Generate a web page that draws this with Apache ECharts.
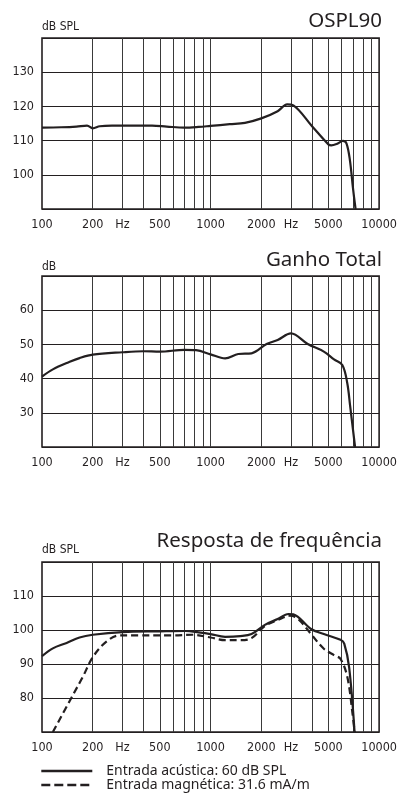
<!DOCTYPE html>
<html>
<head>
<meta charset="utf-8">
<script src="https://cdn.jsdelivr.net/npm/echarts@6/dist/echarts.min.js"></script>
<style>
html,body{margin:0;padding:0;background:#fff;}
#c{width:400px;height:798px;}
</style>
</head>
<body>
<div id="c"></div>
<script>
// ---- data ----
const tickFreqs = [100, 200, 300, 500, 1000, 2000, 3000, 5000, 10000];
const hzTicks = [300, 3000];
const gridFreqs = [200, 300, 400, 500, 600, 700, 800, 900, 1000, 2000, 3000, 4000, 5000, 6000, 7000, 8000, 9000];

const osplFreq = [100, 130, 160, 185, 200, 220, 260, 350, 450, 550, 700, 850, 1000, 1300, 1600, 2000, 2500, 2850, 3100, 4000, 5000, 5200, 5600, 6100, 6400, 6700, 7000, 7250];
const osplDb   = [113.8, 113.9, 114.1, 114.4, 113.6, 114.2, 114.4, 114.4, 114.4, 114.1, 113.8, 114.0, 114.3, 114.8, 115.2, 116.5, 118.6, 120.6, 120.3, 114.2, 108.9, 108.6, 109.0, 109.9, 109.2, 104.5, 96, 90];

const gainFreq = [100, 116, 146, 167, 200, 300, 400, 500, 700, 820, 1000, 1220, 1460, 1750, 2150, 2500, 3000, 3770, 4700, 5400, 6050, 6470, 6730, 7200];
const gainDb   = [40.6, 42.7, 44.9, 46.0, 47.0, 47.7, 48.0, 47.9, 48.4, 48.3, 47.1, 45.9, 47.2, 47.4, 50.1, 51.3, 53.2, 50.1, 47.9, 45.6, 44.0, 38.7, 32, 20];

const acuFreq = [100, 116, 140, 167, 200, 300, 500, 710, 850, 1000, 1220, 1500, 1750, 2100, 2500, 2900, 3100, 3945, 4700, 5900, 6210, 6640, 7150];
const acuDb   = [92.3, 94.6, 96.2, 97.8, 98.6, 99.4, 99.6, 99.7, 99.3, 98.8, 98.0, 98.2, 98.8, 101.5, 103.2, 104.7, 104.6, 100.3, 98.8, 97.1, 96.0, 89.0, 70];

const magFreq = [116, 153, 175, 200, 240, 288, 377, 590, 780, 1000, 1220, 1500, 1750, 2100, 2500, 2950, 3300, 3945, 4700, 5400, 5900, 6470, 6950, 7150];
const magDb   = [70, 81, 86.3, 92, 96.5, 98.4, 98.4, 98.4, 98.6, 97.8, 97.0, 97.0, 97.6, 101.2, 102.9, 104.2, 103.3, 98.8, 94.5, 92.6, 91.5, 86.3, 75.5, 70];

const titles = ['OSPL90', 'Ganho Total', 'Resposta de frequência'];
const units = ['dB SPL', 'dB', 'dB SPL'];
const yRanges = [[90, 140], [20, 70], [70, 120]];
const legendNames = ['Entrada acústica: 60 dB SPL', 'Entrada magnética: 31.6 mA/m'];

// ---- build ----
const zip = (a, b) => a.map((v, i) => [v, b[i]]);
const INK = '#231f20';
const labelFont = "'Liberation Sans Narrow','DejaVu Sans Condensed','Liberation Sans',Arial,sans-serif";
const titleFont = "'Noto Sans','Open Sans',sans-serif";

const grids = [
  {left: 42, top: 38, width: 340, height: 171},
  {left: 42, top: 276, width: 340, height: 171},
  {left: 42, top: 562, width: 340, height: 170}
].map(g => Object.assign(g, {show: true, borderColor: INK, borderWidth: 1.6, backgroundColor: 'transparent', containLabel: false}));

const xAxes = [0, 1, 2].map(i => ({
  type: 'log', logBase: 10, min: 100, max: 10000, gridIndex: i,
  axisLine: {show: false}, axisTick: {show: false}, splitLine: {show: false},
  axisLabel: {
    customValues: tickFreqs,
    formatter: v => hzTicks.includes(Math.round(v)) ? 'Hz' : String(Math.round(v)),
    color: INK, fontSize: 12.5, fontFamily: labelFont, margin: 9
  }
}));

const yAxes = yRanges.map((r, i) => ({
  type: 'value', min: r[0], max: r[1], interval: 10, gridIndex: i,
  axisLine: {show: false}, axisTick: {show: false},
  splitLine: {show: true, lineStyle: {color: INK, width: 1.2}},
  axisLabel: {showMinLabel: false, showMaxLabel: false, color: INK, fontSize: 12.5, fontFamily: labelFont, margin: 8}
}));

const gridLineSeries = [0, 1, 2].map(i => ({
  type: 'line', xAxisIndex: i, yAxisIndex: i, data: [], z: 1, silent: true,
  markLine: {
    silent: true, symbol: ['none', 'none'], animation: false,
    label: {show: false},
    lineStyle: {type: 'solid', color: '#3a3a3a', width: 1},
    data: gridFreqs.map(f => ({xAxis: f}))
  }
}));

const lineBase = {type: 'line', showSymbol: false, symbol: 'none', smooth: 0.35, z: 5, animation: false};

const series = gridLineSeries.concat([
  Object.assign({}, lineBase, {name: 'OSPL90', xAxisIndex: 0, yAxisIndex: 0, data: zip(osplFreq, osplDb), lineStyle: {color: INK, width: 2.2}}),
  Object.assign({}, lineBase, {name: 'Ganho Total', xAxisIndex: 1, yAxisIndex: 1, data: zip(gainFreq, gainDb), lineStyle: {color: INK, width: 2.2}}),
  Object.assign({}, lineBase, {name: legendNames[0], xAxisIndex: 2, yAxisIndex: 2, data: zip(acuFreq, acuDb), itemStyle: {color: INK}, lineStyle: {color: INK, width: 2.2}}),
  Object.assign({}, lineBase, {name: legendNames[1], xAxisIndex: 2, yAxisIndex: 2, data: zip(magFreq, magDb), itemStyle: {color: INK}, lineStyle: {color: INK, width: 2.2, type: [7, 4]}})
]);

const titleTops = [11, 250, 531];
const unitTops = [21, 261, 544];
const title = [];
titles.forEach((t, i) => {
  title.push({text: t, right: 18, top: titleTops[i], textStyle: {fontFamily: titleFont, fontSize: 20.5, fontWeight: 'normal', color: INK}, padding: 0});
  title.push({text: units[i], left: 42, top: unitTops[i], textStyle: {fontFamily: labelFont, fontSize: 12, fontWeight: 'normal', color: INK}, padding: 0});
});

const option = {
  animation: false,
  backgroundColor: '#fff',
  title: title,
  grid: grids,
  xAxis: xAxes,
  yAxis: yAxes,
  legend: {
    data: [
      {name: legendNames[0], lineStyle: {width: 2.6, type: 'solid'}},
      {name: legendNames[1], lineStyle: {width: 2.6, type: [9, 4]}}
    ],
    orient: 'vertical', left: 40, top: 764, padding: 0,
    itemWidth: 51, itemHeight: 14.5, itemGap: 0, selectedMode: false,
    itemStyle: {opacity: 0},
    textStyle: {fontFamily: titleFont, fontSize: 14, color: INK, padding: [0, 0, 0, 9]}
  },
  series: series
};

const chart = echarts.init(document.getElementById('c'), null, {renderer: 'canvas'});
chart.setOption(option);
</script>
</body>
</html>
